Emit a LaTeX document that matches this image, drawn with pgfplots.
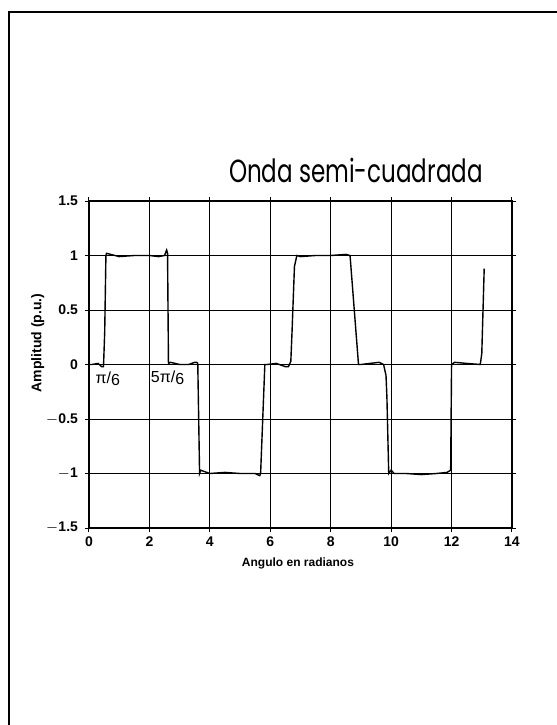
\documentclass[border=0pt]{standalone}
\usepackage{fontspec}
\setmainfont{Liberation Sans}
\newfontfamily\titlefont{Poppins}
\usepackage{pgfplots}
\pgfplotsset{compat=1.18}
\begin{document}
\begin{tikzpicture}[x=1pt,y=1pt]
\useasboundingbox (0,0) rectangle (278.5,362.5);
\draw[line width=1pt] (4.5,0) -- (4.5,356.5) -- (278.5,356.5);
\begin{axis}[
  at={(44.5pt,98.5pt)}, anchor=south west,
  scale only axis, width=211.5pt, height=163.5pt,
  xmin=0, xmax=14, ymin=-1.5, ymax=1.5,
  xtick={0,2,...,14}, ytick={-1.5,-1,...,1.5},
  yticklabels={$-$1.5,$-$1,$-$0.5,0,0.5,1,1.5},
  grid=major,
  major grid style={black, line width=0.5pt},
  axis line style={black, line width=0.7pt},
  tick align=outside, major tick length=2pt,
  tick style={black, line width=0.5pt},
  tick label style={font=\bfseries\fontsize{7}{7}\selectfont},
  /pgf/number format/assume math mode=true,
  xticklabel style={yshift=1pt},
  xlabel={Angulo en radianos},
  ylabel={Amplitud (p.u.)},
  x label style={at={(axis description cs:0.494,-0.107)}, anchor=center, font=\bfseries\fontsize{6}{6}\selectfont},
  y label style={at={(axis description cs:-0.121,0.566)}, anchor=center, rotate=0, font=\bfseries\fontsize{7}{7}\selectfont},
  clip=false,
]
\addplot[black, line width=0.7pt] coordinates {
(0,0.0) (0.1,0.0) (0.3,0.01) (0.42,-0.02) (0.48,-0.02) (0.52,0.3) (0.56,1.0) (0.58,1.02)
(1.0,0.99) (1.5,1.0) (2.0,1.0) (2.3,0.99) (2.5,1.0) (2.57,1.05) (2.6,1.02) (2.63,0.01)
(2.7,0.02) (3.0,0.0) (3.3,0.0) (3.5,0.02) (3.56,0.02) (3.6,0.01) (3.66,-1.0)
(3.7,-0.97) (3.8,-0.98) (4.0,-1.0) (4.5,-0.99) (5.0,-1.0) (5.5,-1.0) (5.65,-1.02) (5.68,-1.0) (5.75,-0.5) (5.82,0.0)
(5.9,0.0) (6.2,0.01) (6.5,-0.02) (6.6,-0.02) (6.68,0.03) (6.72,0.3) (6.8,0.9) (6.88,1.0)
(7.0,0.99) (7.5,1.0) (8.0,1.0) (8.5,1.01) (8.64,1.0) (8.92,0.0)
(9.0,0.0) (9.3,0.01) (9.6,0.02) (9.75,0.0) (9.83,-0.1) (9.86,-0.3) (9.92,-1.0)
(10.0,-0.97) (10.1,-1.0) (10.5,-1.0) (11.0,-1.01) (11.5,-1.0) (11.85,-0.99) (11.97,-0.97) (12.0,0.0)
(12.1,0.02) (12.5,0.01) (12.95,0.0) (13.0,0.1) (13.08,0.88)
};
\node[font=\fontsize{8}{8}\selectfont] at (axis cs:0.62,-0.13) {π/\raisebox{-1pt}{6}};
\node[font=\fontsize{8}{8}\selectfont] at (axis cs:2.6,-0.12) {5π/\raisebox{-1pt}{6}};
\end{axis}
\node[font=\titlefont\fontsize{16}{16}\selectfont, xscale=0.72] at (178pt,277.5pt) {Onda semi-cuadrada};
\end{tikzpicture}
\end{document}
